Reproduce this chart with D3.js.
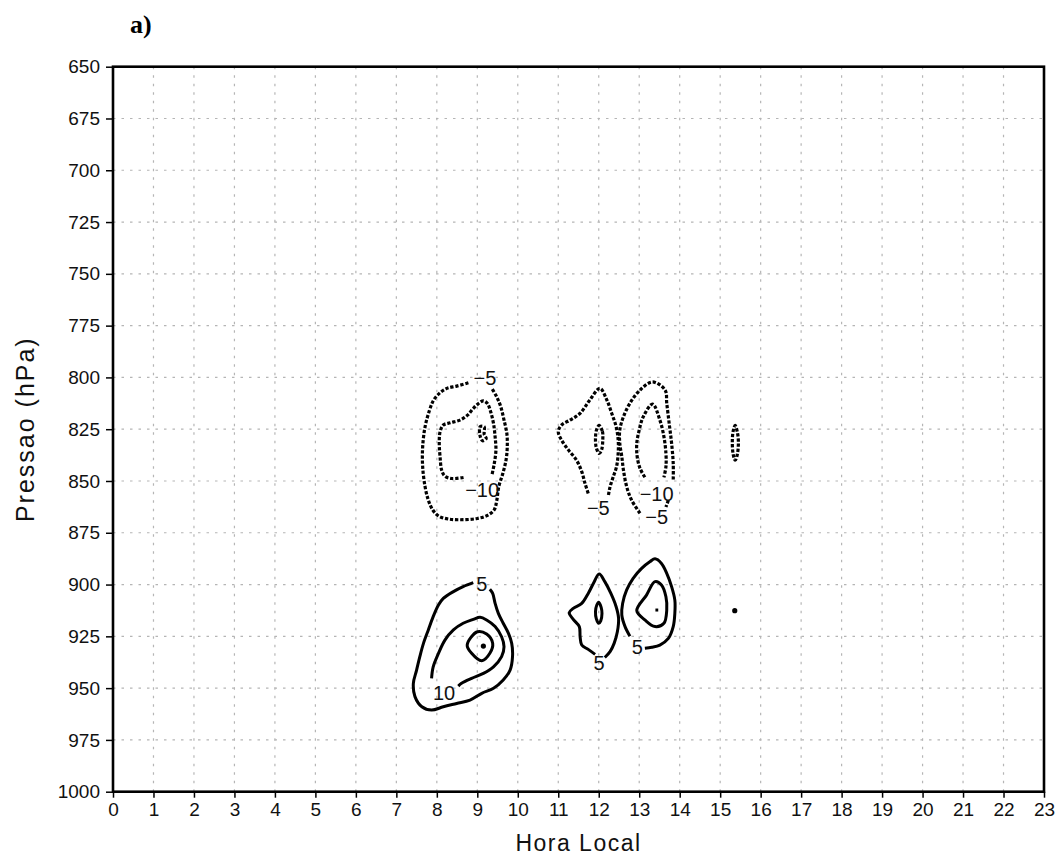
<!DOCTYPE html>
<html>
<head>
<meta charset="utf-8">
<script src="https://cdn.jsdelivr.net/npm/d3@7"></script>
<style>
  html, body { margin: 0; padding: 0; background: #fff; }
  svg { display: block; }
  .tick text { font-family: "Liberation Sans", Arial, sans-serif; font-size: 19px; fill: #111; }
</style>
</head>
<body>
<svg id="chart" width="1063" height="857"></svg>
<script>
// Axis ticks
const hourTicks = [0,1,2,3,4,5,6,7,8,9,10,11,12,13,14,15,16,17,18,19,20,21,22,23];
const pressureTicks = [650,675,700,725,750,775,800,825,850,875,900,925,950,975,1000];

// Contour lines, as [hour, hPa] vertices.
// Negative (dashed) contours, upper layer
const negFive9 = [[8.78,802.6],[8.49,804.2],[8.25,805.3],[8.08,807.4],[7.92,811.0],[7.82,815.8],[7.71,823.8],[7.65,833.5],[7.65,843.1],[7.71,852.8],[7.79,859.2],[7.90,864.0],[8.05,867.0],[8.30,868.4],[8.65,868.7],[9.00,868.1],[9.25,866.6],[9.42,863.8],[9.48,859.5],[9.53,852.8],[9.63,846.4],[9.71,839.9],[9.74,833.5],[9.73,827.1],[9.66,820.6],[9.58,814.2],[9.48,809.4],[9.36,805.3]];
const negTen9 = [[8.66,848.3],[8.37,848.8],[8.20,847.7],[8.12,844.8],[8.08,838.3],[8.06,831.9],[8.08,826.3],[8.16,823.0],[8.33,821.9],[8.57,820.6],[8.76,818.2],[8.90,815.0],[9.03,812.6],[9.15,811.3],[9.25,812.6],[9.33,816.6],[9.40,822.2],[9.44,828.7],[9.46,835.1],[9.42,841.5],[9.36,847.2]];
const negFifteen9 = [[9.07,823.8],[9.17,823.8],[9.17,827.4],[9.22,829.5],[9.13,830.6],[9.07,828.3]];
const negFive12 = [[11.74,856.0],[11.66,851.1],[11.58,845.5],[11.45,839.9],[11.25,835.0],[11.08,830.2],[11.00,826.2],[11.08,823.0],[11.29,820.6],[11.54,817.3],[11.78,810.9],[12.03,805.3],[12.20,810.9],[12.32,817.3],[12.43,823.8],[12.48,830.2],[12.48,836.7],[12.44,843.1],[12.36,847.9],[12.28,852.8],[12.24,856.8]];
const negTen12 = [[12.01,823.2],[12.09,826.0],[12.10,830.0],[12.07,835.0],[12.01,836.7],[11.94,834.0],[11.92,829.0],[11.95,825.0]];
const negFive13 = [[13.02,865.6],[12.81,859.2],[12.69,852.7],[12.61,844.7],[12.57,838.3],[12.52,831.8],[12.52,825.4],[12.61,819.0],[12.77,812.5],[13.02,806.1],[13.33,802.2],[13.64,806.1],[13.68,812.5],[13.74,822.2],[13.80,831.8],[13.84,841.5],[13.84,849.5]];
const negFive13b = [[13.72,859.3],[13.66,862.6]];
const negTen13 = [[13.14,848.2],[13.02,843.9],[12.95,838.3],[12.94,831.8],[13.00,825.4],[13.10,819.0],[13.33,812.9],[13.51,820.6],[13.61,828.6],[13.66,836.7],[13.66,843.1],[13.61,848.2]];
const negFive15 = [[15.37,823.2],[15.43,827.0],[15.45,832.0],[15.42,837.5],[15.37,840.0],[15.32,837.0],[15.30,831.0],[15.32,826.0]];

// Positive (solid) contours, lower layer
const posFive9 = [[8.90,899.1],[8.65,901.0],[8.41,903.4],[8.16,906.7],[8.04,909.9],[7.91,915.5],[7.79,921.9],[7.67,928.4],[7.58,934.8],[7.50,941.3],[7.42,947.7],[7.46,954.1],[7.63,959.0],[7.87,960.6],[8.16,959.0],[8.49,957.4],[8.82,955.8],[9.11,952.5],[9.40,950.1],[9.64,946.1],[9.81,941.3],[9.87,934.8],[9.85,928.4],[9.77,923.6],[9.64,918.7],[9.52,913.9],[9.44,909.1],[9.38,904.3],[9.31,902.3]];
const posTen9 = [[7.87,945.3],[7.91,939.7],[8.04,933.2],[8.20,926.8],[8.41,921.9],[8.65,918.7],[8.90,916.8],[9.07,915.8],[9.23,917.1],[9.44,920.3],[9.60,925.2],[9.66,930.0],[9.60,934.8],[9.40,939.7],[9.15,942.9],[8.86,945.3],[8.61,947.7],[8.53,949.0]];
const posFifteen9 = [[8.75,929.2],[9.00,922.8],[9.23,923.9],[9.38,928.4],[9.31,933.2],[9.11,936.8],[8.86,933.2]];
const posFive12 = [[11.91,933.7],[11.74,931.3],[11.58,929.2],[11.54,925.2],[11.52,920.3],[11.37,916.8],[11.27,913.6],[11.37,911.5],[11.58,909.1],[11.74,904.3],[11.87,899.4],[12.01,894.9],[12.15,898.6],[12.30,904.3],[12.43,910.7],[12.49,916.3],[12.46,922.8],[12.38,928.4],[12.28,932.4],[12.15,935.2]];
const posTen12 = [[12.00,908.5],[12.06,911.0],[12.08,914.0],[12.05,917.5],[12.00,918.7],[11.94,916.5],[11.92,913.0],[11.95,910.0]];
const posFive13 = [[12.77,924.9],[12.65,920.3],[12.57,914.7],[12.59,909.1],[12.69,902.6],[12.85,897.0],[13.06,892.2],[13.27,888.9],[13.39,887.6],[13.55,889.8],[13.68,894.6],[13.80,901.0],[13.88,907.5],[13.88,913.9],[13.84,920.3],[13.72,926.0],[13.51,929.2],[13.31,930.3],[13.14,930.8]];
const posTen13 = [[12.94,912.6],[13.18,905.1],[13.39,898.6],[13.55,900.2],[13.66,905.9],[13.68,912.3],[13.61,918.7],[13.39,920.3],[13.14,917.1]];
const posFifteen13 = [[13.40,912.3],[13.47,912.3]];

// Tiny closed maxima drawn as dots: [hour, hPa]
const peakDots = [[9.15,929.7],[15.36,912.6]];

// Contour labels: [hour, hPa, text]
const contourLabels = [
  [9.19,800.3,"\u22125"],
  [9.12,854.4,"\u221210"],
  [11.99,863.0,"\u22125"],
  [13.43,856.0,"\u221210"],
  [13.43,867.3,"\u22125"],
  [9.11,899.4,"5"],
  [8.18,952.2,"10"],
  [12.01,937.7,"5"],
  [12.95,930.0,"5"]
];

const contourSet = [
  {level:-5, closed:false, pts:negFive9},
  {level:-10, closed:false, pts:negTen9},
  {level:-15, closed:true, pts:negFifteen9},
  {level:-5, closed:false, pts:negFive12},
  {level:-10, closed:true, pts:negTen12},
  {level:-5, closed:false, pts:negFive13},
  {level:-5, closed:false, pts:negFive13b},
  {level:-10, closed:false, pts:negTen13},
  {level:-5, closed:true, pts:negFive15},
  {level:5, closed:false, pts:posFive9},
  {level:10, closed:false, pts:posTen9},
  {level:15, closed:true, pts:posFifteen9},
  {level:5, closed:false, pts:posFive12},
  {level:10, closed:true, pts:posTen12},
  {level:5, closed:false, pts:posFive13},
  {level:10, closed:true, pts:posTen13},
  {level:15, closed:false, pts:posFifteen13}
];

const svg = d3.select("#chart");
const x = d3.scaleLinear().domain([0, 23]).range([113, 1044]);
const y = d3.scaleLinear().domain([650, 1000]).range([66.7, 791.7]);

// Dotted grid
const grid = svg.append("g").attr("stroke", "#b5b5b5").attr("stroke-width", 1.2)
  .attr("stroke-dasharray", "2.5,6");
grid.selectAll("line.v").data(hourTicks.slice(1, -1)).join("line")
  .attr("x1", d => x(d)).attr("x2", d => x(d))
  .attr("y1", y(650)).attr("y2", y(1000));
grid.selectAll("line.h").data(pressureTicks.slice(1, -1)).join("line")
  .attr("x1", x(0)).attr("x2", x(23))
  .attr("y1", d => y(d)).attr("y2", d => y(d));

// Contours
const openLine = d3.line().x(d => x(d[0])).y(d => y(d[1])).curve(d3.curveCatmullRom.alpha(0.5));
const closedLine = d3.line().x(d => x(d[0])).y(d => y(d[1])).curve(d3.curveCatmullRomClosed.alpha(0.5));

svg.append("g").selectAll("path").data(contourSet).join("path")
  .attr("d", d => (d.closed ? closedLine : openLine)(d.pts))
  .attr("fill", "none")
  .attr("stroke", "#000")
  .attr("stroke-width", d => d.level < 0 ? 3.2 : 3)
  .attr("stroke-dasharray", d => d.level < 0 ? "3.3,1.8" : null)
  .attr("stroke-linejoin", "round");

svg.append("g").selectAll("circle").data(peakDots).join("circle")
  .attr("cx", d => x(d[0])).attr("cy", d => y(d[1])).attr("r", 2.6).attr("fill", "#000");

svg.append("g").selectAll("text").data(contourLabels).join("text")
  .attr("x", d => x(d[0])).attr("y", d => y(d[1]))
  .attr("dy", "0.36em")
  .attr("text-anchor", "middle")
  .attr("font-family", "Liberation Sans, Arial, sans-serif")
  .attr("font-size", 20)
  .attr("fill", "#111")
  .text(d => d[2]);

// Axes
const xAxis = d3.axisBottom(x).tickValues(hourTicks).tickFormat(d3.format("d")).tickSize(6).tickPadding(5);
const yAxis = d3.axisLeft(y).tickValues(pressureTicks).tickFormat(d3.format("d")).tickSize(7).tickPadding(6);

const gx = svg.append("g").attr("transform", `translate(0,${y(1000)})`).call(xAxis);
const gy = svg.append("g").attr("transform", `translate(${x(0)},0)`).call(yAxis);
[gx, gy].forEach(g => {
  g.select(".domain").remove();
  g.selectAll(".tick line").attr("stroke", "#000").attr("stroke-width", 1.5);
});

// Frame
svg.append("rect")
  .attr("x", x(0)).attr("y", y(650))
  .attr("width", x(23) - x(0)).attr("height", y(1000) - y(650))
  .attr("fill", "none").attr("stroke", "#000").attr("stroke-width", 2.6);

// Titles
svg.append("text")
  .attr("x", (x(0) + x(23)) / 2).attr("y", 851)
  .attr("text-anchor", "middle")
  .attr("font-family", "Liberation Sans, Arial, sans-serif").attr("font-size", 23)
  .attr("letter-spacing", 1.5)
  .attr("fill", "#111")
  .text("Hora Local");

svg.append("text")
  .attr("transform", `translate(34,${(y(650) + y(1000)) / 2}) rotate(-90)`)
  .attr("text-anchor", "middle")
  .attr("font-family", "Liberation Sans, Arial, sans-serif").attr("font-size", 25)
  .attr("letter-spacing", 2)
  .attr("fill", "#111")
  .text("Pressao (hPa)");

svg.append("text")
  .attr("x", 130).attr("y", 33)
  .attr("font-family", "Liberation Serif, serif").attr("font-weight", "bold").attr("font-size", 26)
  .text("a)");
</script>
</body>
</html>
